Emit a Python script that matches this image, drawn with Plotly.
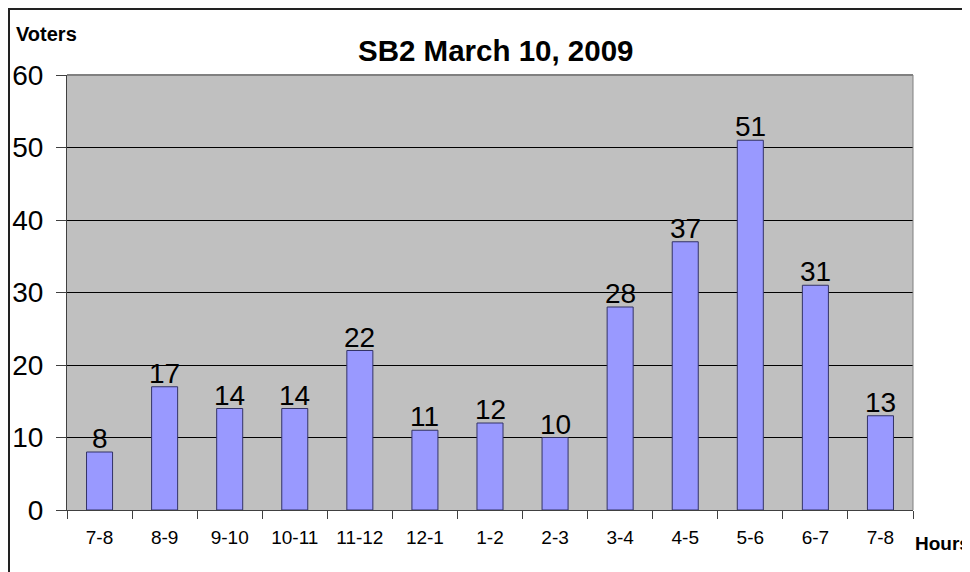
import plotly.graph_objects as go

hours = ["7-8", "8-9", "9-10", "10-11", "11-12", "12-1", "1-2", "2-3", "3-4", "4-5", "5-6", "6-7", "7-8"]
voters = [8, 17, 14, 14, 22, 11, 12, 10, 28, 37, 51, 31, 13]
y_ticks = [0, 10, 20, 30, 40, 50, 60]

keys = [f"c{i}" for i in range(len(hours))]

# page body has an 8px offset; work in reference pixel coords and shift
OFF = 8
W, H = 970 - OFF, 572 - OFF
PL, PR, PT, PB = 67, 913, 75, 510  # plot box in reference coords
L, R, T, B = PL - OFF, W - (PR - OFF), PT - OFF, H - (PB - OFF)
pw, ph = PR - PL, PB - PT

def px(x):
    return (x - PL) / pw

def py(y):
    return (PB - y) / ph

FONT = "Liberation Sans, Arial, sans-serif"

fig = go.Figure(go.Bar(
    x=keys, y=voters,
    marker=dict(color="#9999FF", line=dict(color="#333366", width=1)),
    cliponaxis=False,
))

for k, v in zip(keys, voters):
    fig.add_annotation(x=k, y=v, text=str(v), showarrow=False,
                       xanchor="center", yanchor="bottom", yshift=-4,
                       font=dict(size=28, color="black"))

fig.update_layout(
    width=W, height=H, autosize=False,
    margin=dict(l=L, r=R, t=T, b=B, pad=0),
    paper_bgcolor="white", plot_bgcolor="#C0C0C0",
    bargap=0.6, showlegend=False,
    font=dict(family=FONT, color="black"),
    xaxis=dict(
        type="category", tickvals=keys, ticktext=hours, tickson="boundaries",
        ticks="outside", ticklen=8, tickcolor="#404040", tickwidth=1,
        showline=True, linecolor="#404040", linewidth=1,
        tickfont=dict(size=19), ticklabelstandoff=10, showgrid=False,
        range=[-0.5, 12.5], automargin=False,
    ),
    yaxis=dict(
        range=[0, 60], tickvals=y_ticks, ticks="outside", ticklen=10,
        tickcolor="#404040", showline=True, linecolor="#404040", linewidth=1,
        showgrid=True, gridcolor="black", gridwidth=1, zeroline=False,
        tickfont=dict(size=28), ticklabelstandoff=7, automargin=False,
    ),
)

# plot border top/right
fig.add_shape(type="line", xref="paper", yref="paper", x0=0, x1=1, y0=1, y1=1,
              line=dict(color="#808080", width=2))
fig.add_shape(type="line", xref="paper", yref="paper", x0=1, x1=1, y0=0, y1=1,
              line=dict(color="#808080", width=1))
# outer chart border
fig.add_shape(type="rect", xref="paper", yref="paper",
              x0=px(9), x1=px(990), y0=py(600), y1=py(9),
              line=dict(color="#222222", width=2), layer="above")

fig.add_annotation(text="<b>SB2 March 10, 2009</b>", xref="paper", yref="paper",
                   x=px(495.5), y=py(51), showarrow=False, font=dict(size=29.5),
                   xanchor="center", yanchor="middle")
fig.add_annotation(text="<b>Voters</b>", xref="paper", yref="paper",
                   x=px(14), y=py(34), showarrow=False, font=dict(size=20),
                   xanchor="left", yanchor="middle")
fig.add_annotation(text="<b>Hours</b>", xref="paper", yref="paper",
                   x=px(913), y=py(543), showarrow=False, font=dict(size=19),
                   xanchor="left", yanchor="middle")

fig.write_html("out.html")
